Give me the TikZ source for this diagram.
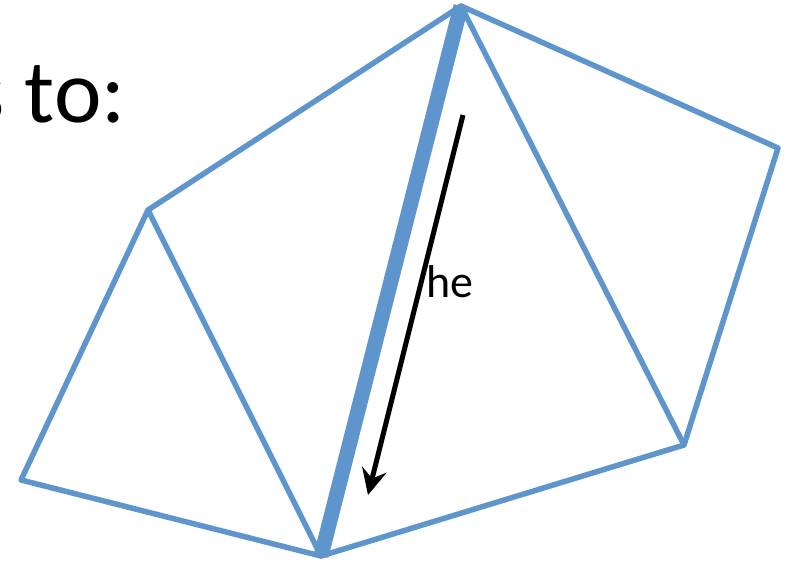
\documentclass[tikz,border=0pt]{standalone}
\usepackage{fontspec}
\setmainfont{Carlito}
\usetikzlibrary{arrows.meta}
\definecolor{meshblue}{HTML}{5D95CC}
\tikzset{
  edge/.style={draw=meshblue,line width=5.5pt,line join=round,line cap=round},
  hedge/.style={draw=meshblue,line width=15pt,line cap=butt},
  arr/.style={-{Stealth[length=26pt,width=25pt,inset=9pt]},line width=5pt},
}
\begin{document}
\begin{tikzpicture}[x=1pt,y=-1pt]
\useasboundingbox (0,0) rectangle (792,567);
% mesh vertices
\coordinate (top) at (461,6);
\coordinate (rt) at (778,148);
\coordinate (rb) at (684,445);
\coordinate (bot) at (321,556);
\coordinate (lb) at (21,480);
\coordinate (lt) at (148,210);
% edges
\draw[edge] (lt) -- (top) -- (rt) -- (rb) -- (bot) -- (lb) -- cycle;
\draw[edge] (lt) -- (bot);
\draw[edge] (top) -- (rb);
\draw[hedge] (top) -- (bot);
% half edge arrow
\coordinate (hs) at (463,115);
\coordinate (he) at (368,495);
\draw[arr] (hs) -- (he);
\node[anchor=base west,inner sep=0pt,font=\fontsize{46}{52}\selectfont] (helabel) at (426,297) {he};
% cut off title text
\node[anchor=base east,inner sep=0pt,font=\fontsize{90}{100}\selectfont] (title) at (126,123) {s to:};
\end{tikzpicture}
\end{document}
